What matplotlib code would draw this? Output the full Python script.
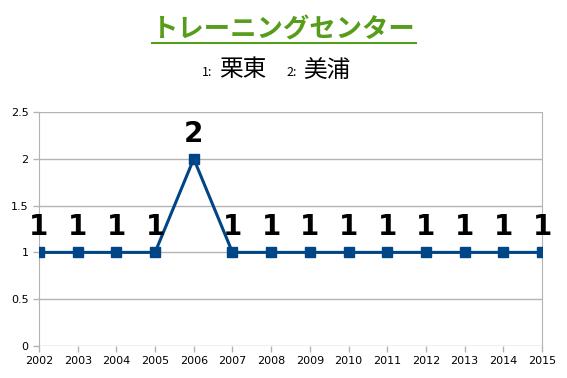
import matplotlib
matplotlib.use("Agg")
import matplotlib.pyplot as plt
from matplotlib.lines import Line2D
from matplotlib import font_manager

years = [2002, 2003, 2004, 2005, 2006, 2007, 2008, 2009, 2010, 2011, 2012, 2013, 2014, 2015]
values = [1, 1, 1, 1, 2, 1, 1, 1, 1, 1, 1, 1, 1, 1]
title = "トレーニングセンター"
legend_items = [("1:", "栗東"), ("2:", "美浦")]

plt.rcParams['font.family'] = ['Noto Sans CJK JP', 'DejaVu Sans']

names = {f.name for f in font_manager.fontManager.ttflist}
label_font = 'Liberation Sans Narrow' if 'Liberation Sans Narrow' in names else 'DejaVu Sans'

fig = plt.figure(figsize=(5.67, 3.78), dpi=100)
ax = fig.add_axes([39/567, 32/378, (542-39)/567, (346-112)/378])

ax.plot(years, values, color='#004586', lw=2.2, marker='s', ms=7, zorder=3)
for x, v in zip(years, values):
    ax.annotate(str(v), (x, v), xytext=(0, 8), textcoords='offset points',
                ha='center', va='bottom', fontsize=20, fontweight='bold',
                family=label_font, color='black')

ax.set_xlim(2002, 2015)
ax.set_ylim(0, 2.5)
ax.set_xticks(years)
ax.set_yticks([0, 0.5, 1, 1.5, 2, 2.5])
ax.set_yticklabels(['0', '0.5', '1', '1.5', '2', '2.5'])
ax.tick_params(labelsize=8, colors='#b3b3b3', labelcolor='black', length=4, width=1)
for lbl in ax.get_xticklabels() + ax.get_yticklabels():
    lbl.set_family('DejaVu Sans')
ax.grid(axis='y', color='#b3b3b3', lw=1)
ax.set_axisbelow(True)
for s in ['left', 'right', 'bottom']:
    ax.spines[s].set_color('#b3b3b3')
ax.spines['top'].set_visible(False)
ax.spines['bottom'].set_visible(False)

# title with underline
t = fig.text(284/567, 1 - 30/378, title, ha='center', va='center',
             fontsize=19, fontweight='bold', color='#579d1c')
fig.canvas.draw()
bb = t.get_window_extent()
fig.add_artist(Line2D([bb.x0/567, bb.x1/567], [(bb.y0 + 1)/378] * 2,
                      color='#579d1c', lw=1.5))

# subtitle legend
fig.text(202/567, 1 - 73/378, legend_items[0][0], ha='left', va='center', fontsize=9)
fig.text(219/567, 1 - 70/378, legend_items[0][1], ha='left', va='center', fontsize=17)
fig.text(286/567, 1 - 73/378, legend_items[1][0], ha='left', va='center', fontsize=9)
fig.text(303/567, 1 - 70/378, legend_items[1][1], ha='left', va='center', fontsize=17)

fig.savefig("out.png", dpi=100)
